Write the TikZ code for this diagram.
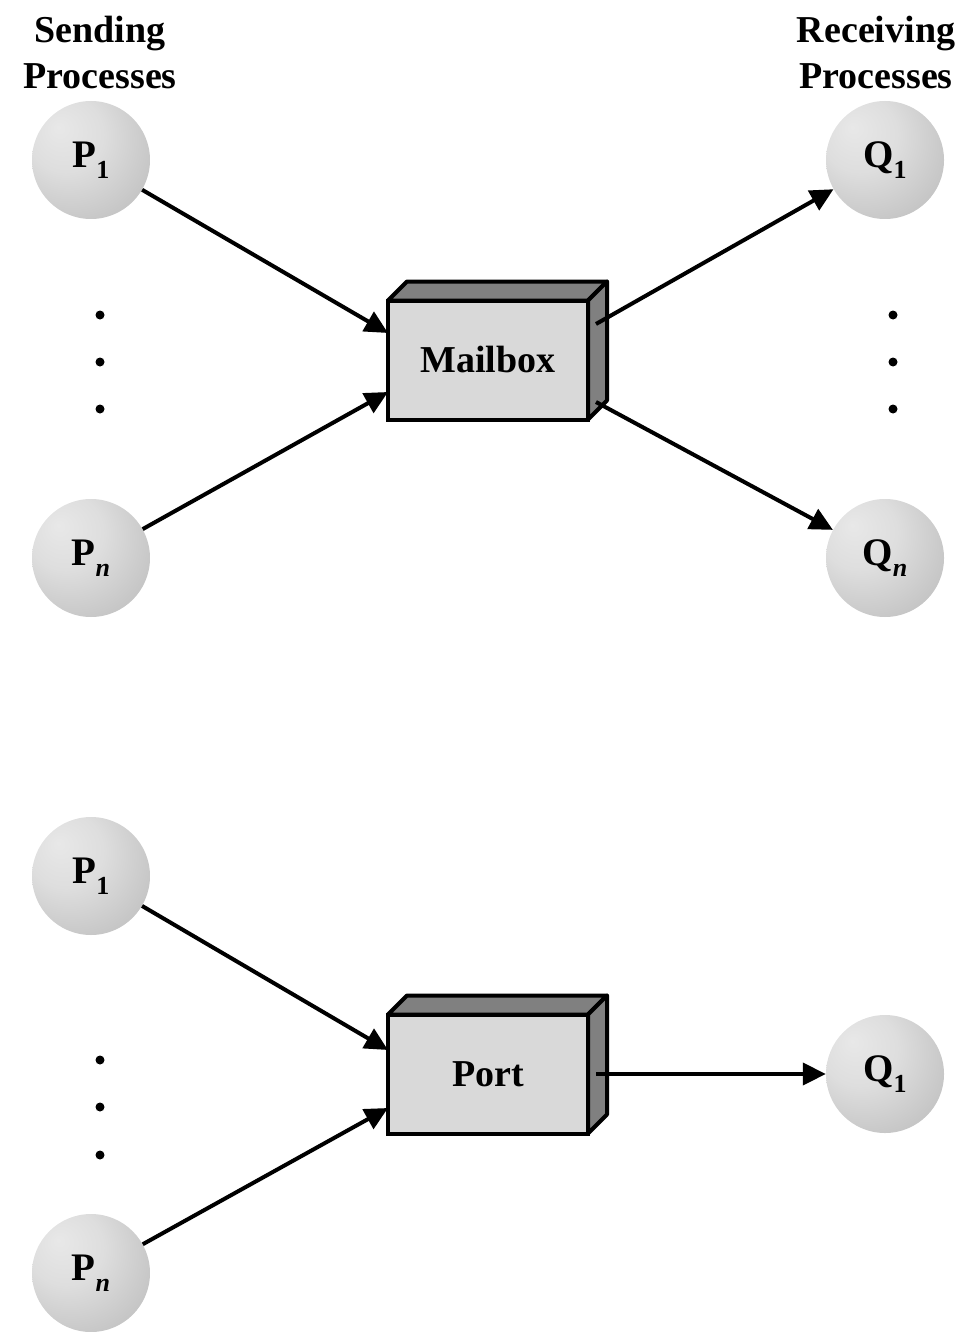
\documentclass[tikz,border=0pt]{standalone}
\usepackage{fontspec}
\setmainfont{Liberation Serif}
\usetikzlibrary{arrows.meta}

% light sphere shading, highlight towards the upper left
\pgfdeclareradialshading{sphere}{\pgfpoint{-14bp}{14bp}}{%
  color(0bp)=(white!91!black);
  color(16bp)=(white!87!black);
  color(45bp)=(white!72!black);
  color(70bp)=(white!56!black)}

\newcommand{\idx}[1]{\raisebox{-0.28em}{\fontsize{26}{26}\selectfont #1}}

\tikzset{
  proc/.style={circle, minimum size=118pt, inner sep=0pt, shading=sphere,
    font=\fontsize{39}{39}\selectfont\bfseries},
  front/.style={draw, line width=4pt, fill=white!85!black, minimum width=200pt,
    minimum height=119pt, inner sep=0pt, outer sep=0pt,
    font=\fontsize{38}{38}\selectfont\bfseries},
  face/.style={draw, line width=4pt, fill=white!50!black, line join=round},
  arr/.style={line width=4pt, -{Triangle[length=23pt,width=22pt]}},
  dot/.style={circle, fill=black, inner sep=0pt, minimum size=9pt},
  head/.style={align=center, font=\fontsize{38}{46}\selectfont\bfseries}
}

\begin{document}
\begin{tikzpicture}[x=1pt, y=-1pt]
\useasboundingbox (0,0) rectangle (966,1332);

% headings
\node[head] (hs) at (100,53) {Sending\\Processes};
\node[head] (hr) at (876,53) {Receiving\\Processes};

% ---- mailbox ----
\node[proc] (p1) at (91,160) {P\idx{1}};
\node[proc] (pn) at (91,558) {P\idx{\textit{n}}};
\node[proc] (q1) at (885,160) {Q\idx{1}};
\node[proc] (qn) at (885,558) {Q\idx{\textit{n}}};

\node[front] (mb) at (488,360) {Mailbox};
\draw[face] (mb.north west) -- ++(19,-19) -- ++(200,0) -- (mb.north east) -- cycle;
\draw[face] (mb.north east) -- ++(19,-19) -- ++(0,119) -- (mb.south east) -- cycle;

\coordinate (mbin1) at (388,333);
\coordinate (mbin2) at (388,392);
\coordinate (mbout1) at (596,324);
\coordinate (mbout2) at (596,402);

\draw[arr] (p1) -- (mbin1);
\draw[arr] (pn) -- (mbin2);
\draw[arr] (mbout1) -- (q1);
\draw[arr] (mbout2) -- (qn);

\node[dot] (ld1) at (100,315) {};
\node[dot] (ld2) at (100,362) {};
\node[dot] (ld3) at (100,409) {};
\node[dot] (rd1) at (893,315) {};
\node[dot] (rd2) at (893,362) {};
\node[dot] (rd3) at (893,409) {};

% ---- port ----
\node[proc] (bp1) at (91,876) {P\idx{1}};
\node[proc] (bpn) at (91,1273) {P\idx{\textit{n}}};
\node[proc] (bq1) at (885,1074) {Q\idx{1}};

\node[front] (pt) at (488,1074) {Port};
\draw[face] (pt.north west) -- ++(19,-19) -- ++(200,0) -- (pt.north east) -- cycle;
\draw[face] (pt.north east) -- ++(19,-19) -- ++(0,119) -- (pt.south east) -- cycle;

\coordinate (ptin1) at (388,1050);
\coordinate (ptin2) at (388,1108);
\coordinate (ptout) at (596,1074);

\draw[arr] (bp1) -- (ptin1);
\draw[arr] (bpn) -- (ptin2);
\draw[arr] (ptout) -- (bq1);

\node[dot] (bd1) at (100,1060) {};
\node[dot] (bd2) at (100,1107) {};
\node[dot] (bd3) at (100,1155) {};
\end{tikzpicture}
\end{document}
